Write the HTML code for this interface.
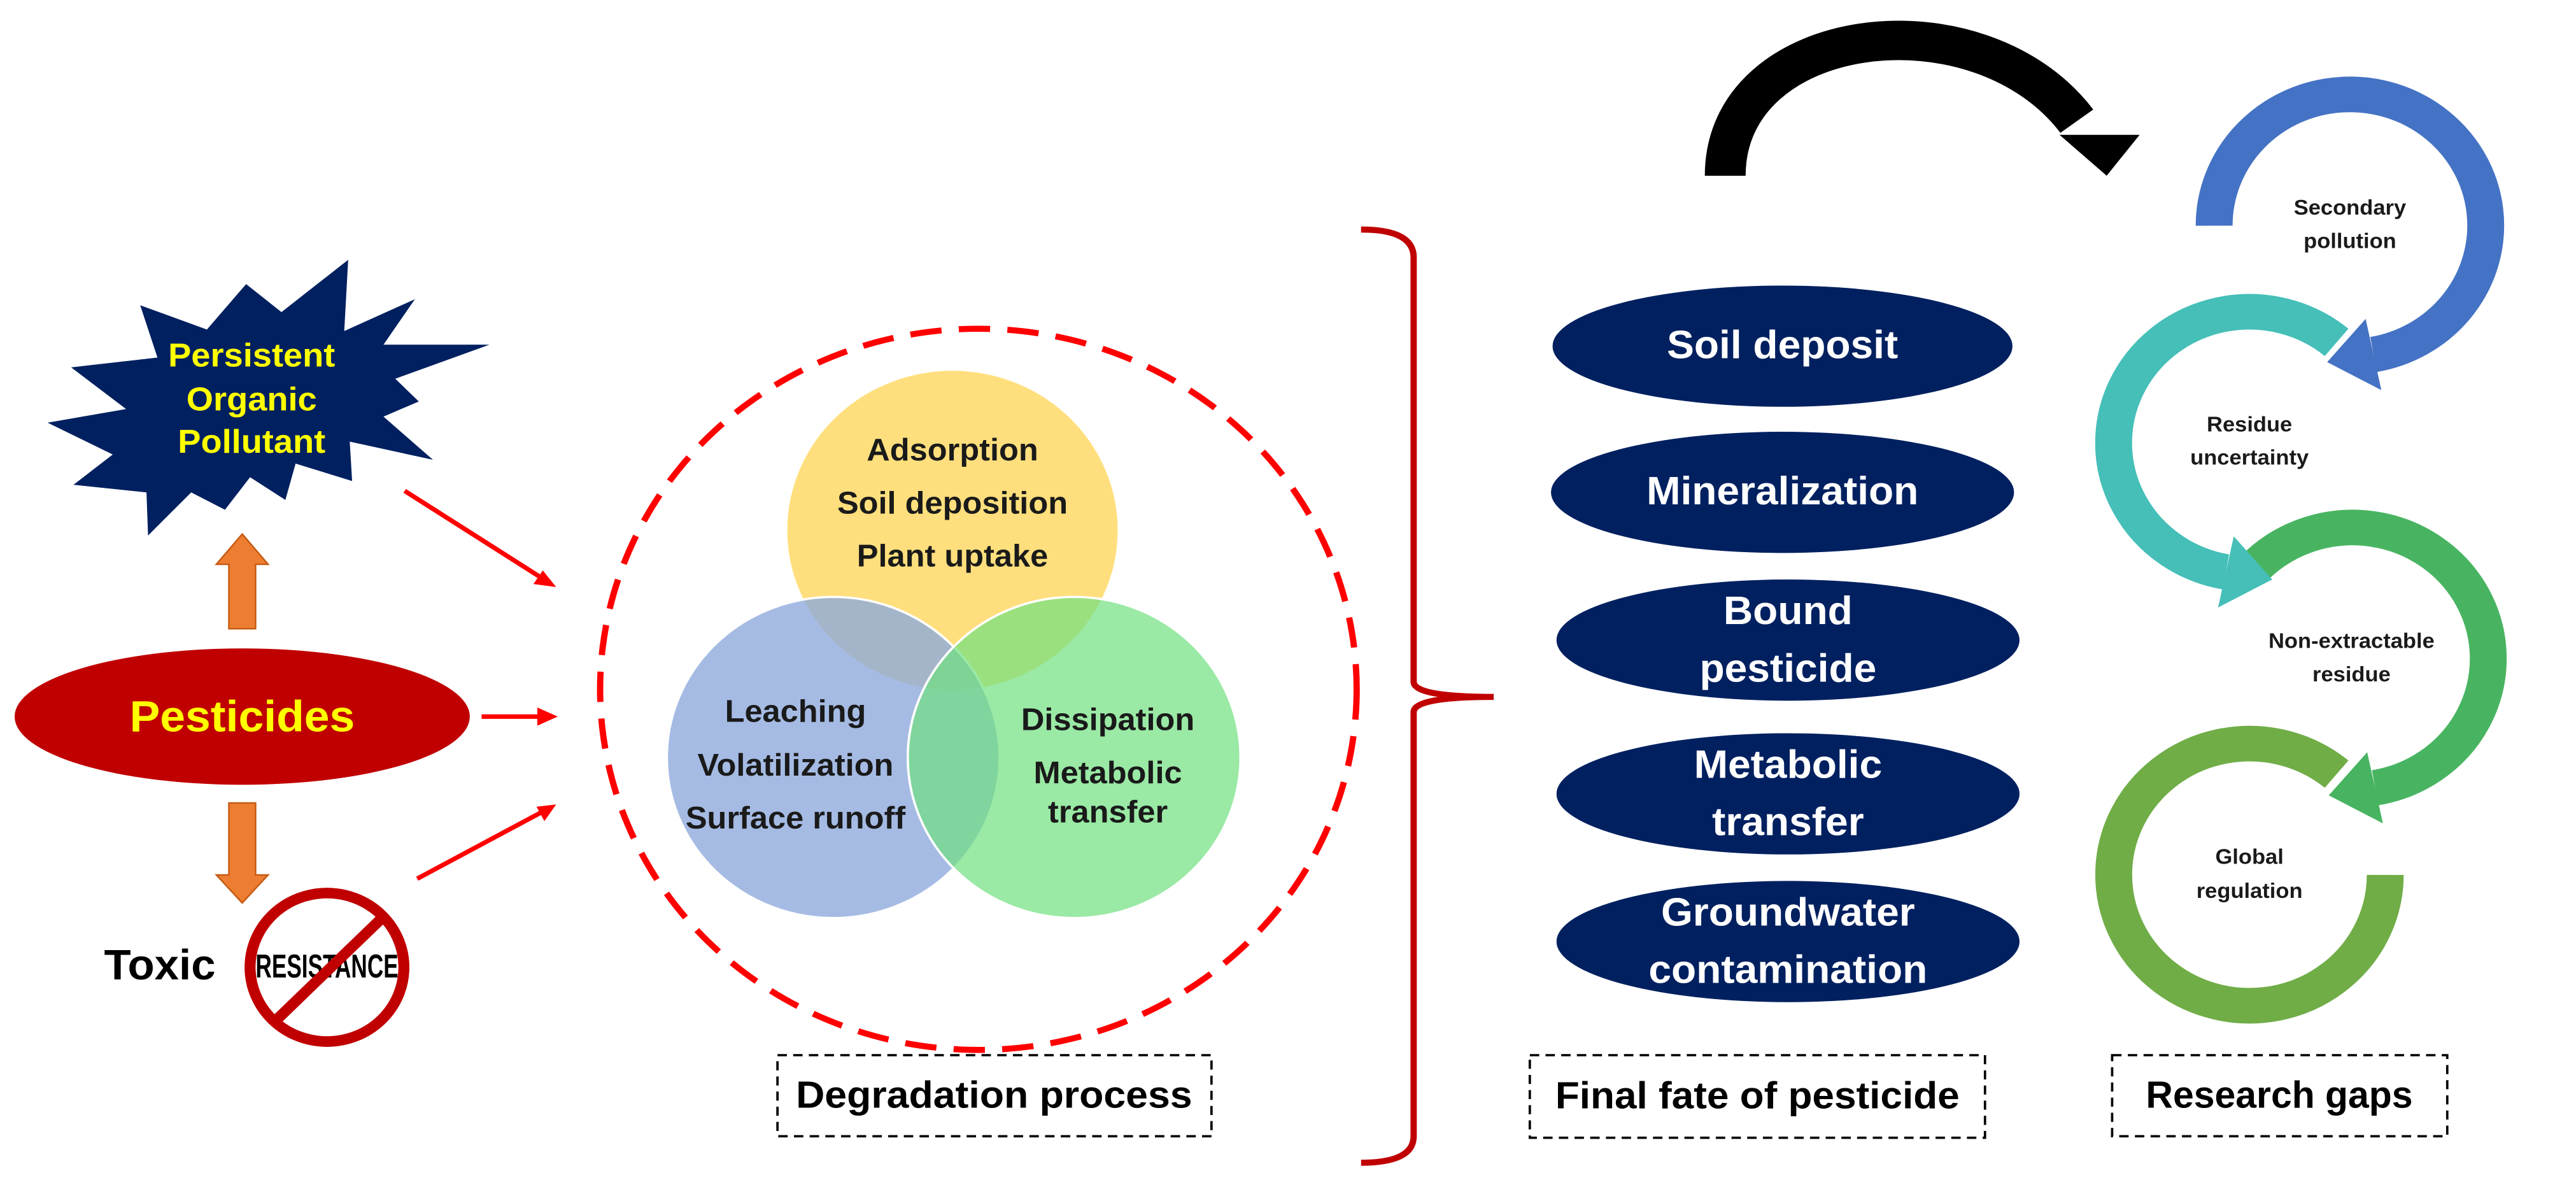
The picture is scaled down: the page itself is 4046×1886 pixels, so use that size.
<!DOCTYPE html>
<html><head><meta charset="utf-8"><style>
html,body{margin:0;padding:0;background:#fff;}
svg{display:block;}
text{font-family:"Liberation Sans",sans-serif;font-weight:bold;text-anchor:middle;dominant-baseline:middle;}
</style></head><body>
<svg width="4046" height="1886" viewBox="0 0 3281 1530" xmlns="http://www.w3.org/2000/svg">
<rect width="3281" height="1530" fill="#fff"/>
<g transform="scale(1,0.965)">
<g transform="translate(8,0)">
<!-- star -->
<polygon fill="#002060" points="435,343 430,437 520,395 480,455 615,455 495,500 525,530 480,550 543,607 437,583 440,635 368,612 355,660 310,630 278,673 235,650 180,707 178,650 85,640 135,600 52,558 152,540 82,485 192,472 170,403 255,435 305,375 350,412"/>
<g fill="#FFFF00" font-size="44">
<text x="312" y="472">Persistent</text><text x="312" y="530">Organic</text><text x="312" y="586">Pollutant</text></g>
<!-- orange arrows -->
<polygon fill="#ED7D31" stroke="#C55A11" stroke-width="2" points="283,830 317,830 317,745 333,745 300,705 267,745 283,745"/>
<polygon fill="#ED7D31" stroke="#C55A11" stroke-width="2" points="283,1060 317,1060 317,1155 333,1155 300,1192 267,1155 283,1155"/>
<ellipse cx="300" cy="946" rx="290" ry="90" fill="#C00000"/>
<text x="300" y="950" font-size="58" fill="#FFFF00">Pesticides</text>
<text x="195" y="1278" font-size="56" fill="#000">Toxic</text>
<circle cx="408" cy="1277" r="98" fill="none" stroke="#C00000" stroke-width="14"/>
<text x="408" y="1279" font-size="44" fill="#000" textLength="182" lengthAdjust="spacingAndGlyphs">RESISTANCE</text>
<line x1="345" y1="1345" x2="480" y2="1210" stroke="#C00000" stroke-width="14"/>
<!-- red arrows -->
<g stroke="#FF0000" stroke-width="6" fill="#FF0000">
<line x1="507" y1="648" x2="680" y2="762"/><polygon stroke="none" points="700,775 671,771 683,753"/>
<line x1="605" y1="946" x2="678" y2="946"/><polygon stroke="none" points="702,946 676,934 676,958"/>
<line x1="523" y1="1160" x2="680" y2="1073"/><polygon stroke="none" points="700,1062 685,1084 675,1065"/>
</g>
<ellipse cx="1238" cy="910" rx="482" ry="476" fill="none" stroke="#FF0000" stroke-width="8" stroke-dasharray="40,22"/>
<!-- venn -->
<circle cx="1205" cy="700" r="212" fill="#FFD966" fill-opacity="0.85" stroke="#fff" stroke-width="3"/>
<circle cx="1053" cy="1000" r="212" fill="#8FAADC" fill-opacity="0.8" stroke="#fff" stroke-width="3"/>
<circle cx="1360" cy="1000" r="212" fill="#6FE07F" fill-opacity="0.7" stroke="#fff" stroke-width="3"/>
<g font-size="41" fill="#1a1a1a">
<text x="1205" y="597">Adsorption</text><text x="1205" y="667">Soil deposition</text><text x="1205" y="737">Plant uptake</text>
<text x="1005" y="942">Leaching</text><text x="1005" y="1013">Volatilization</text><text x="1005" y="1083">Surface runoff</text>
<text x="1403" y="953">Dissipation</text><text x="1403" y="1023">Metabolic</text><text x="1403" y="1075">transfer</text></g>
<rect x="982" y="1393" width="553" height="107" fill="none" stroke="#000" stroke-width="3" stroke-dasharray="12,8"/>
<text x="1258" y="1449" font-size="50" fill="#000" textLength="505" lengthAdjust="spacingAndGlyphs">Degradation process</text>
</g>
<g transform="translate(1640.6,0)">
<path d="M93,303 Q160,303 160,340 L160,900 Q160,920 262,920 Q160,920 160,940 L160,1500 Q160,1535 93,1535" fill="none" stroke="#C00000" stroke-width="8"/>
<path d="M557,232 C557,30 880,-10 1005,160" fill="none" stroke="#000" stroke-width="52"/>
<polygon fill="#000" points="983,178 1085,178 1043,232"/>
<g fill="#002060">
<ellipse cx="630" cy="457" rx="293" ry="80"/><ellipse cx="630" cy="650" rx="295" ry="80"/>
<ellipse cx="637" cy="845" rx="295" ry="80"/><ellipse cx="637" cy="1048" rx="295" ry="80"/><ellipse cx="637" cy="1243" rx="295" ry="80"/></g>
<g fill="#fff" font-size="52">
<text x="630" y="459">Soil deposit</text><text x="630" y="652">Mineralization</text>
<text x="637" y="810">Bound</text><text x="637" y="886">pesticide</text>
<text x="637" y="1013">Metabolic</text><text x="637" y="1089">transfer</text>
<text x="637" y="1208">Groundwater</text><text x="637" y="1284">contamination</text></g>
<rect x="308" y="1393" width="580" height="109" fill="none" stroke="#000" stroke-width="3" stroke-dasharray="12,8"/>
<text x="598" y="1450" font-size="50" fill="#000" textLength="515" lengthAdjust="spacingAndGlyphs">Final fate of pesticide</text>
<rect x="1050" y="1393" width="427" height="107" fill="none" stroke="#000" stroke-width="3" stroke-dasharray="12,8"/>
<text x="1263" y="1449" font-size="50" fill="#000" textLength="340" lengthAdjust="spacingAndGlyphs">Research gaps</text>
<!-- rings -->
<g fill="none" stroke-width="47">
<path d="M1180,298 A173,173 0 1 1 1383,468" stroke="#4472C4"/>
<path d="M1336,452 A173,173 0 1 0 1195,755" stroke="#45BFB8"/>
<path d="M1233,748 A173,173 0 1 1 1385,1040" stroke="#48B461"/>
<path d="M1336,1022 A173,173 0 1 0 1398,1155" stroke="#70AD47"/>
</g>
<polygon fill="#4472C4" points="1393,515 1373,421 1324,478"/>
<polygon fill="#45BFB8" points="1185,802 1205,708 1254,765"/>
<polygon fill="#48B461" points="1395,1087 1375,993 1326,1050"/>
<g fill="#1a1a1a" font-size="28">
<text x="1353" y="276">Secondary</text><text x="1353" y="320">pollution</text>
<text x="1225" y="562">Residue</text><text x="1225" y="606">uncertainty</text>
<text x="1355" y="848">Non-extractable</text><text x="1355" y="892">residue</text>
<text x="1225" y="1133">Global</text><text x="1225" y="1178">regulation</text></g>
</g>
</g>
</svg>
</body></html>
